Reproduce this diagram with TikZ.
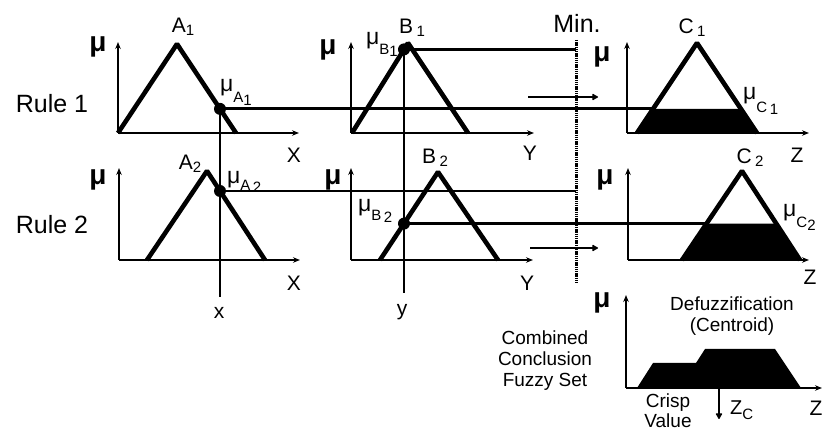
\documentclass[tikz,border=0pt]{standalone}
\usepackage{fontspec}
\setmainfont{Liberation Sans}
\usetikzlibrary{arrows.meta}
\newcommand\lowsub[2][0.45em]{\raisebox{-#1}{\fontsize{15}{15}\selectfont #2}}
\newcommand\tinysub[1]{\raisebox{-0.15em}{\fontsize{15}{15}\selectfont #1}}
\begin{document}
\begin{tikzpicture}[x=1pt,y=-1pt,
  axis/.style={line width=1.6pt,-{Stealth[length=7pt,width=5.5pt]}},
  mf/.style={line width=4.6pt,line join=bevel},
  link/.style={line width=2.8pt},
  minline/.style={line width=3pt,dash pattern=on 1.4pt off 0.8pt},
  flow/.style={line width=2.8pt,-{Latex[length=7pt,width=8pt,round]}},
  dotm/.style={circle,fill=black,inner sep=0pt,minimum size=12pt},
  mu/.style={font=\fontsize{28}{28}\selectfont\bfseries,inner sep=0pt},
  mus/.style={font=\fontsize{23}{23}\selectfont,inner sep=0pt,anchor=base west},
  setl/.style={font=\fontsize{21}{21}\selectfont,inner sep=0pt},
  big/.style={font=\fontsize{25}{25}\selectfont,inner sep=0pt},
  txt/.style={font=\fontsize{19}{21}\selectfont,inner sep=0pt,align=center},
  ]
\useasboundingbox (0,0) rectangle (823,430);

% ---------- axes ----------
\foreach \n/\ox/\oy/\ty/\ex in {a1/118/133/42/299, b1/351/133/42/534, c1/627/133/42/809,
                               a2/119/260/168/300, b2/351/260/168/533, c2/628/260/168/809,
                               d/626/388/295/822}{
  \coordinate (o\n) at (\ox,\oy);
  \coordinate (t\n) at (\ox,\ty);
  \coordinate (e\n) at (\ex,\oy);
  \draw[axis] (o\n) -- (t\n);
  \draw[axis] (o\n) -- (e\n);
}

% ---------- membership functions ----------
\coordinate (A1l) at (118,133); \coordinate (A1p) at (177,44);  \coordinate (A1r) at (236,133);
\coordinate (B1l) at (352,133); \coordinate (B1p) at (408,43);  \coordinate (B1r) at (468,133);
\coordinate (C1l) at (637,133); \coordinate (C1p) at (697,43);  \coordinate (C1r) at (757,133);
\coordinate (A2l) at (147,260); \coordinate (A2p) at (207,171); \coordinate (A2r) at (265,260);
\coordinate (B2l) at (380,260); \coordinate (B2p) at (438,172); \coordinate (B2r) at (498,260);
\coordinate (C2l) at (682,260); \coordinate (C2p) at (742,171); \coordinate (C2r) at (800,260);

% clipped conclusions
\fill (C1l) -- (653.1,108.9) -- (740.9,108.9) -- (C1r) -- cycle;
\fill (C2l) -- (706.5,223.6) -- (776.3,223.6) -- (C2r) -- cycle;

\foreach \m in {A1,B1,C1,A2,B2,C2}{
  \draw[mf] (\m l) -- (\m p) -- (\m r);
}

% ---------- min line ----------
\coordinate (mtop) at (576,40);
\coordinate (mbot) at (576,284);
\draw[minline] (mtop) -- (mbot);

% ---------- inputs ----------
\coordinate (xin) at (220,297);
\coordinate (yin) at (404,293);
\node[dotm] (dA1) at (220,108.9) {};
\node[dotm] (dB1) at (404,49.4) {};
\node[dotm] (dA2) at (220,191) {};
\node[dotm] (dB2) at (404,223.6) {};
\draw[link] (dA1.center) -- (xin);
\draw[link] (dB1.center) -- (yin);

\coordinate (c1cut) at (653.1,108.9);
\coordinate (c2cut) at (706.5,223.6);
\coordinate (mB1) at (576,49.4);
\coordinate (mA2) at (576,191);
\draw[link] (dA1.center) -- (c1cut);
\draw[link] (dB1.center) -- (mB1);
\draw[link] (dA2.center) -- (mA2);
\draw[link] (dB2.center) -- (c2cut);

% ---------- flow arrows ----------
\coordinate (f1s) at (528,97);  \coordinate (f1e) at (598,97);
\coordinate (f2s) at (530,248); \coordinate (f2e) at (598,248);
\draw[flow] (f1s) -- (f1e);
\draw[flow] (f2s) -- (f2e);

% ---------- combined set ----------
\fill (637,388) -- (653,363) -- (696,363) -- (705,349) -- (775,349) -- (801,388) -- cycle;
\coordinate (zc) at (719,388);
\coordinate (zce) at (719,419);
\draw[flow] (zc) -- (zce);

% ---------- labels ----------
\node[mu] (mua1) at (98,47) {μ};
\node[mu] (mub1) at (328,50) {μ};
\node[mu] (muc1) at (602,57) {μ};
\node[mu] (mua2) at (98,180) {μ};
\node[mu] (mub2) at (333,180) {μ};
\node[mu] (muc2) at (605,180) {μ};
\node[mu] (mud) at (602,303) {μ};

\node[setl] (lA1) at (183,27) {A\tinysub{1}};
\node[setl] (lB1) at (412,28) {B\,\tinysub{1}};
\node[setl] (lC1) at (692,28) {C\,\tinysub{1}};
\node[setl] (lA2) at (190,164) {A\tinysub{2}};
\node[setl] (lB2) at (435,158) {B\,\tinysub{2}};
\node[setl] (lC2) at (750,158) {C\,\tinysub{2}};

\node[mus] (muA1) at (220,91.5) {μ\lowsub[0.5em]{A\tinysub{1}}};
\node[mus] (muB1) at (366,45) {μ\lowsub[0.4em]{B\tinysub{1}}};
\node[mus] (muC1) at (743,99.5) {μ\lowsub[0.55em]{C\,\tinysub{1}}};
\node[mus] (muA2) at (227,183.5) {μ\lowsub[0.3em]{A\,\tinysub{2}}};
\node[mus] (muB2) at (358,211.5) {μ\lowsub[0.4em]{B\,\tinysub{2}}};
\node[mus] (muC2) at (783,216.5) {μ\lowsub[0.5em]{C\tinysub{2}}};

\node[setl] (X1) at (294,155) {X};
\node[setl] (X2) at (294,283) {X};
\node[setl] (Y1) at (530,153) {Y};
\node[setl] (Y2) at (527,283) {Y};
\node[setl] (Z1) at (797,155) {Z};
\node[setl] (Z2) at (810,277) {Z};
\node[setl] (Z3) at (816,408) {Z};

\node[setl] (xl) at (219,313) {x};
\node[setl] (yl) at (402,312) {y};

\node[big] (r1) at (52,104) {Rule 1};
\node[big] (r2) at (52,225) {Rule 2};
\node[big] (minl) at (577,23) {Min.};

\node[txt] (defz) at (732,316) {Defuzzification\\(Centroid)};
\node[txt] (comb) at (545,361) {Combined\\Conclusion\\Fuzzy Set};
\node[txt,font=\fontsize{19}{20}\selectfont] (crisp) at (668,410.5) {Crisp\\Value};
\node[setl,font=\fontsize{20}{20}\selectfont,anchor=west] (zcl) at (730,410) {Z\lowsub[0.25em]{C}};
\end{tikzpicture}
\end{document}
